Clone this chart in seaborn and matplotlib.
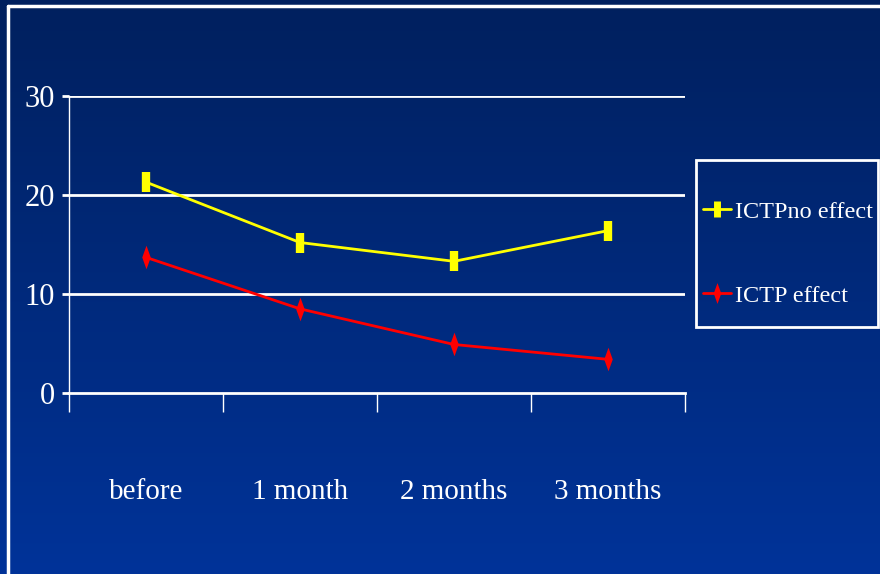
import numpy as np
import pandas as pd
import matplotlib
matplotlib.use('Agg')
import matplotlib.pyplot as plt
import seaborn as sns
from matplotlib.lines import Line2D
from matplotlib.patches import Rectangle

# chart values
months = ['before', '1 month', '2 months', '3 months']
no_effect = [21.3, 15.2, 13.3, 16.4]
effect = [13.7, 8.5, 4.9, 3.4]
y_ticks = [0, 10, 20, 30]

df = pd.DataFrame({
    'time': months * 2,
    'value': no_effect + effect,
    'series': ['ICTPno effect'] * 4 + ['ICTP effect'] * 4,
})

sns.set_style('white')
plt.rcParams['font.family'] = ['Liberation Serif', 'DejaVu Serif']

W, H = 880, 574
fig = plt.figure(figsize=(8.8, 5.74), dpi=100)

# slide background: vertical navy gradient
bg = fig.add_axes([0, 0, 1, 1], zorder=-10)
grad = np.linspace(0, 1, 256).reshape(-1, 1)
cmap = matplotlib.colors.LinearSegmentedColormap.from_list('bg', ['#00205e', '#003399'])
bg.imshow(grad, aspect='auto', cmap=cmap, extent=[0, 1, 0, 1], origin='upper')
bg.set_xlim(0, 1)
bg.set_ylim(0, 1)
bg.axis('off')
# white slide frame lines (top and left)
fig.add_artist(Line2D([8 / W, 1], [1 - 6 / H, 1 - 6 / H], color='white', lw=2.5))
fig.add_artist(Line2D([8 / W, 8 / W], [0, 1 - 6 / H], color='white', lw=2.5))

ax = fig.add_axes([69 / W, 1 - 393 / H, 616 / W, 297 / H])
ax.set_facecolor('none')

# slim diamond like the slide's marker
thin_diamond = [(0, 1), (0.36, 0), (0, -1), (-0.36, 0), (0, 1)]

sns.lineplot(data=df[df.series == 'ICTPno effect'], x='time', y='value', ax=ax,
             color='#ffff00', lw=2, marker='|', markersize=15, markeredgewidth=6,
             markeredgecolor='#ffff00', sort=False, legend=False)
sns.lineplot(data=df[df.series == 'ICTP effect'], x='time', y='value', ax=ax,
             color='#ff0000', lw=2, marker=thin_diamond, markersize=17, markeredgewidth=0,
             markerfacecolor='#ff0000', sort=False, legend=False)

ax.set_xlim(-0.5, 3.5)
ax.set_ylim(0, 30)
ax.set_xlabel('')
ax.set_ylabel('')
ax.set_yticks(y_ticks)
ax.set_yticklabels([str(v) for v in y_ticks])
ax.set_xticks(range(len(months)))
ax.set_xticklabels(months)
ax.set_xticks(np.arange(-0.5, 4, 1), minor=True)

for v in y_ticks[1:]:
    ax.axhline(v, color='white', lw=2, zorder=0)

for s in ['top', 'right']:
    ax.spines[s].set_visible(False)
ax.spines['left'].set_color('white')
ax.spines['left'].set_linewidth(1)
ax.spines['bottom'].set_color('white')
ax.spines['bottom'].set_linewidth(2)

ax.tick_params(axis='y', colors='white', length=5, width=2, direction='out',
               labelsize=22, pad=5, left=True)
ax.tick_params(axis='x', which='major', length=0, colors='white', labelsize=21, pad=62)
ax.tick_params(axis='x', which='minor', length=14, width=1, color='white',
               direction='out', bottom=True)

# legend box drawn separately so the text can sit close to its edges
fig.add_artist(Rectangle((696 / W, 1 - 327 / H), 182 / W, 167 / H,
                         transform=fig.transFigure, fill=False,
                         edgecolor='white', lw=2))
handles = [
    Line2D([], [], color='#ffff00', lw=2, marker='|', markersize=12, markeredgewidth=5),
    Line2D([], [], color='#ff0000', lw=2, marker=thin_diamond, markersize=15, markeredgewidth=0),
]
leg = fig.legend(handles, ['ICTPno effect', 'ICTP effect'],
                 loc='upper left', bbox_to_anchor=(699 / W, 1 - 197 / H),
                 frameon=False, fontsize=17.5, labelcolor='white',
                 handlelength=1.15, handletextpad=0.2, labelspacing=2.55,
                 borderpad=0.15, borderaxespad=0)

fig.savefig('out.png', dpi=100)
